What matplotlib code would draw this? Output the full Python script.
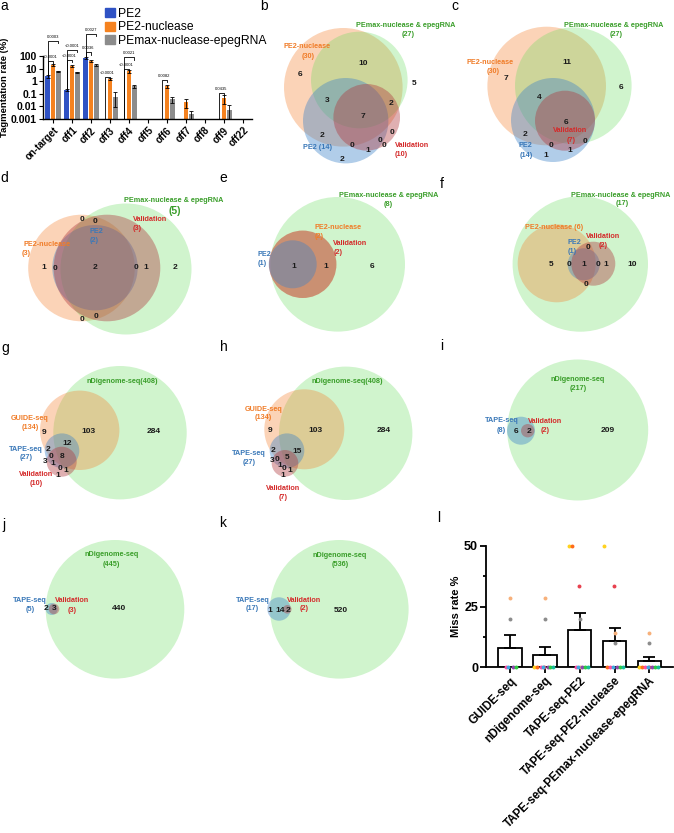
import numpy as np
import matplotlib.pyplot as plt
from matplotlib.patches import Circle, Patch
from matplotlib.transforms import blended_transform_factory

plt.rcParams['font.family'] = ['Liberation Sans', 'DejaVu Sans']

W, H = 674, 833

# ---------------- panel a : tagmentation rate ----------------
sites = ['on-target', 'off1', 'off2', 'off3', 'off4', 'off5', 'off6', 'off7', 'off8', 'off9', 'off22']
pe2 = [2.5, 0.2, 70, 0, 0, 0, 0, 0, 0, 0, 0]
pe2_nuc = [20, 17, 40, 1.5, 6, 0, 0.4, 0.022, 0, 0.045, 0]
pemax = [6, 5, 20, 0.06, 0.4, 0, 0.04, 0.0017, 0, 0.004, 0]
pe2_err = [0.6, 0.03, 12, 0, 0, 0, 0, 0, 0, 0, 0]
pe2_nuc_err = [4, 3, 8, 0.3, 1.2, 0, 0.1, 0.015, 0, 0.03, 0]
pemax_err = [1, 0.6, 3, 0.07, 0.1, 0, 0.02, 0.003, 0, 0.008, 0]
series_names = ['PE2', 'PE2-nuclease', 'PEmax-nuclease-epegRNA']
series_colors = ['#2f52c4', '#f5821f', '#8c8c8c']
p_site = [0, 0, 1, 1, 2, 2, 3, 4, 4, 6, 9]
p_other = [2, 1, 2, 1, 2, 1, 1, 2, 1, 1, 1]
p_text = ['0.0003', '<0.0001', '<0.0001', '<0.0001', '0.0027', '0.0036',
          '<0.0001', '0.0021', '<0.0001', '0.0082', '0.0435']

# ---------------- venn diagrams ----------------
b_sets = ['PE2-nuclease', 'PEmax-nuclease & epegRNA', 'PE2', 'Validation']
b_sizes = [30, 27, 14, 10]
b_counts = [10, 6, 5, 3, 2, 7, 2, 0, 0, 0, 0, 1, 2]

c_sets = ['PE2-nuclease', 'PEmax-nuclease & epegRNA', 'PE2', 'Validation']
c_sizes = [30, 27, 14, 7]
c_counts = [11, 7, 6, 4, 6, 2, 0, 1, 0, 1]

d_sets = ['PE2-nuclease', 'PEmax-nuclease & epegRNA', 'PE2', 'Validation']
d_sizes = [3, 5, 2, 3]
d_counts = [0, 0, 1, 0, 2, 0, 1, 2, 0, 0]

e_sets = ['PEmax-nuclease & epegRNA', 'PE2-nuclease', 'Validation', 'PE2']
e_sizes = [8, 2, 2, 1]
e_counts = [1, 1, 6]

f_sets = ['PEmax-nuclease & epegRNA', 'PE2-nuclease', 'PE2', 'Validation']
f_sizes = [17, 6, 1, 2]
f_counts = [5, 0, 1, 0, 1, 10, 0, 0]

g_sets = ['nDigenome-seq', 'GUIDE-seq', 'TAPE-seq', 'Validation']
g_sizes = [408, 134, 27, 10]
g_counts = [9, 103, 284, 12, 2, 0, 8, 3, 1, 0, 1, 1]

h_sets = ['nDigenome-seq', 'GUIDE-seq', 'TAPE-seq', 'Validation']
h_sizes = [408, 134, 27, 7]
h_counts = [9, 103, 284, 2, 15, 3, 0, 5, 1, 0, 1, 1]

i_sets = ['nDigenome-seq', 'TAPE-seq', 'Validation']
i_sizes = [217, 8, 2]
i_counts = [6, 2, 209]

j_sets = ['nDigenome-seq', 'TAPE-seq', 'Validation']
j_sizes = [445, 5, 3]
j_counts = [2, 3, 440]

k_sets = ['nDigenome-seq', 'TAPE-seq', 'Validation']
k_sizes = [536, 17, 2]
k_counts = [1, 14, 2, 520]

# ---------------- panel l : miss rate ----------------
methods = ['GUIDE-seq', 'nDigenome-seq', 'TAPE-seq-PE2', 'TAPE-seq-PE2-nuclease',
           'TAPE-seq-PEmax-nuclease-epegRNA']
nan = np.nan
miss_guide = [nan, nan, nan, 28.6, 20, 0, 0, 0, 0, nan]
miss_ndig = [0, 0, 0, 28.6, 20, 0, 0, 0, 0, 0]
miss_pe2 = [50, 50, 33.3, 0, 20, 0, 0, 0, 0, 0]
miss_pe2nuc = [50, 0, 33.3, 14.3, 10, 0, 0, 0, 0, 0]
miss_pemax = [0, 0, 0, 14.3, 10, 0, 0, 0, 0, 0]
exp_colors = ['#ffd21f', '#ff6b1a', '#e8414f', '#f7b07a', '#8c8c8c',
              '#ff4fa3', '#3fa7e0', '#8e44ad', '#2ecc40', '#1abc9c']

# ---------------- styles ----------------
fill = {'or': ((245, 130, 50), 0.35), 'gr': ((100, 220, 90), 0.3),
        'bl': ((60, 130, 200), 0.4), 'rd': ((175, 55, 60), 0.4)}
txt = {'or': '#f07c28', 'gr': '#3a9e2a', 'bl': '#3a78b8', 'rd': '#d42a2a'}

fig = plt.figure(figsize=(W / 100, H / 100), dpi=100)

# overlay axis in pixel units for venn diagrams and panel letters
ax0 = fig.add_axes([0, 0, 1, 1])
ax0.set_xlim(0, W)
ax0.set_ylim(H, 0)
ax0.axis('off')

for lt, x, y in [('a', 4, 6), ('b', 264, 6), ('c', 455, 6), ('d', 4, 178), ('e', 223, 178),
                 ('f', 442, 184), ('g', 5, 348), ('h', 224, 347), ('i', 442, 346),
                 ('j', 4, 525), ('k', 223, 523), ('l', 439, 518)]:
    ax0.text(x, y, lt, fontsize=10, ha='center', va='center')

panels = [
    dict(sets=b_sets, sizes=b_sizes, counts=b_counts, keys=['or', 'gr', 'bl', 'rd'],
         circles=[(343.3, 87.3, 59.3), (359.3, 80, 48.3), (345.7, 120.7, 42.7), (366.7, 117.3, 33.3)],
         labels=[('name', 0, 306.7, 46.7), ('size', 0, 307.7, 56), ('name', 1, 405.5, 25),
                 ('size', 1, 407.7, 34.3), ('both', 2, 317.7, 147.7), ('name', 3, 411.7, 145.7),
                 ('size', 3, 401, 154.3)],
         xy=[(363.3, 63.3), (300, 74), (414.3, 83.3), (326.7, 100.7), (391, 103.3), (362.7, 116.7),
             (321.7, 135), (392.3, 132.3), (351.7, 145.7), (380, 140), (384.3, 145.7),
             (367.7, 150.7), (341.7, 159)]),
    dict(sets=c_sets, sizes=c_sizes, counts=c_counts, keys=['or', 'gr', 'bl', 'rd'],
         circles=[(546.7, 86, 59.3), (573.3, 85.7, 58.3), (553, 120, 42), (565, 120.7, 30)],
         labels=[('name', 0, 490, 62.7), ('size', 0, 492.7, 71.7), ('name', 1, 614, 25),
                 ('size', 1, 616, 34.3), ('name', 2, 525, 145.7), ('size', 2, 526, 155),
                 ('name', 3, 570, 130.7), ('size', 3, 570.7, 140)],
         xy=[(566.7, 62.7), (506, 78.3), (620.7, 87.3), (539.3, 97.3), (566, 122.7), (525.3, 134.3),
             (550.7, 145.7), (570, 150.7), (585, 141.7), (546, 155.7)]),
    dict(sets=d_sets, sizes=d_sizes, counts=d_counts, keys=['or', 'gr', 'bl', 'rd'],
         circles=[(81.5, 268, 53.3), (126, 269, 65.5), (95, 267.7, 42.7), (107, 268, 53.3)],
         labels=[('name', 1, 173.3, 200), ('size', 1, 175, 210.7, 7.5), ('name', 3, 150, 219),
                 ('size', 3, 137.3, 228.3), ('name', 2, 96.7, 231), ('size', 2, 94, 240.7),
                 ('name', 0, 46.7, 244.3), ('size', 0, 26, 253.3)],
         xy=[(81.7, 219), (95, 221.7), (43.3, 267.7), (55, 269), (95, 267.7), (136, 267.7),
             (146, 267.7), (175, 267.7), (82.3, 319.3), (95.7, 316.7)]),
    dict(sets=e_sets, sizes=e_sizes, counts=e_counts, keys=['gr', 'or', 'rd', 'bl'],
         circles=[(337.7, 264.3, 67.3), (302.7, 264.3, 33.7), (302.7, 264.3, 33.7), (292.7, 264.3, 24)],
         labels=[('name', 0, 388.3, 195), ('size', 0, 388, 204.3), ('name', 1, 337.7, 227.3),
                 ('size', 1, 319, 236), ('name', 2, 350.3, 243.3), ('size', 2, 338.3, 252.3),
                 ('name', 3, 264.3, 254), ('size', 3, 261.7, 263.3)],
         xy=[(293.3, 266), (326, 266), (371.7, 266)]),
    dict(sets=f_sets, sizes=f_sizes, counts=f_counts, keys=['gr', 'or', 'bl', 'rd'],
         circles=[(580.3, 264, 67.7), (556.7, 263.3, 39), (583.7, 264.3, 16), (593.3, 263.7, 22)],
         labels=[('name', 0, 621, 195), ('size', 0, 622, 203.3), ('both', 1, 554, 227.7),
                 ('name', 3, 603.3, 236), ('size', 3, 603.3, 245), ('name', 2, 574, 242.3),
                 ('size', 2, 571.7, 251.7)],
         xy=[(550.7, 264), (569, 265), (583.3, 264.3), (598.3, 264.3), (605.7, 264.3), (631.7, 264),
             (588.3, 247.3), (586, 284)]),
    dict(sets=g_sets, sizes=g_sizes, counts=g_counts, keys=['gr', 'or', 'bl', 'rd'],
         circles=[(120, 432.7, 66.7), (79.7, 430.3, 39.7), (62, 450.7, 17.3), (61.7, 461.7, 15)],
         labels=[('tight', 0, 122, 381), ('name', 1, 30, 418.3), ('size', 1, 30, 427.3),
                 ('name', 2, 26, 449), ('size', 2, 26, 457.7), ('name', 3, 35.7, 474),
                 ('size', 3, 35.7, 483.3)],
         xy=[(44, 432.3), (88.3, 431.7), (154, 431.7), (66.7, 443.3), (47.7, 449.3), (51, 456.7),
             (62.3, 456.7), (45, 461), (52.7, 463.3), (60, 468.3), (66, 470.7), (57.3, 475)]),
    dict(sets=h_sets, sizes=h_sizes, counts=h_counts, keys=['gr', 'or', 'bl', 'rd'],
         circles=[(345.7, 433.3, 66.7), (304.3, 429.3, 40), (287, 450.7, 17.3), (285, 463.3, 13.3)],
         labels=[('tight', 0, 347, 381), ('name', 1, 263.3, 409), ('size', 1, 263.3, 417.7),
                 ('name', 2, 249, 453.3), ('size', 2, 249, 462.3), ('name', 3, 283.3, 488.3),
                 ('size', 3, 283.3, 497.3)],
         xy=[(270, 430.7), (315.7, 430.7), (383.3, 430.7), (273.3, 450), (296.7, 451), (271.7, 460.7),
             (277.3, 459), (286.7, 457.7), (279.3, 465), (284.3, 468.3), (289.3, 470), (282.3, 475)]),
    dict(sets=i_sets, sizes=i_sizes, counts=i_counts, keys=['gr', 'bl', 'rd'],
         circles=[(577.7, 430, 70.5), (521, 430.7, 14), (527.7, 430.7, 6.7)],
         labels=[('name', 0, 577.7, 379), ('size', 0, 577.7, 388), ('name', 1, 501.7, 420.7),
                 ('size', 1, 501, 430), ('name', 2, 545, 421), ('size', 2, 545, 430.7)],
         xy=[(516, 431.7), (529, 431.7), (607.7, 430)]),
    dict(sets=j_sets, sizes=j_sizes, counts=j_counts, keys=['gr', 'bl', 'rd'],
         circles=[(115, 609.3, 69.3), (51.7, 609, 6), (54, 609, 5.3)],
         labels=[('name', 0, 111.7, 555), ('size', 0, 111.7, 564), ('name', 1, 30, 600),
                 ('size', 1, 30, 609.3), ('name', 2, 71.7, 601), ('size', 2, 71.7, 610.7)],
         xy=[(46, 609), (54, 609), (119, 608.3)]),
    dict(sets=k_sets, sizes=k_sizes, counts=k_counts, keys=['gr', 'bl', 'rd'],
         circles=[(339.3, 609.3, 69.3), (279, 609, 11.7), (287.3, 609.3, 4.3)],
         labels=[('name', 0, 340, 555.7), ('size', 0, 340, 564.3), ('name', 1, 252.3, 600),
                 ('size', 1, 252.3, 608.7), ('name', 2, 304.3, 600), ('size', 2, 304.3, 609)],
         xy=[(269.3, 610.7), (280, 610.7), (288.3, 610.7), (340.7, 610)]),
]

for p in panels:
    for (cx, cy, r), key in zip(p['circles'], p['keys']):
        rgb, a = fill[key]
        ax0.add_patch(Circle((cx, cy), r, facecolor=np.array(rgb) / 255, alpha=a, lw=0))
    for lab in p['labels']:
        kind, si, x, y = lab[:4]
        fs = lab[4] if len(lab) > 4 else 5.2
        name, size = p['sets'][si], p['sizes'][si]
        s = {'name': name, 'size': f'({size})', 'both': f'{name} ({size})',
             'tight': f'{name}({size})'}[kind]
        ax0.text(x, y, s, color=txt[p['keys'][si]], fontsize=fs, fontweight='bold',
                 ha='center', va='center')
    for n, (x, y) in zip(p['counts'], p['xy']):
        ax0.text(x, y, str(n), fontsize=6, fontweight='bold', color='#1a1a1a',
                 ha='center', va='center')

# ---------------- panel a ----------------
ax = fig.add_axes([43 / W, 1 - 119 / H, 209.5 / W, 63 / H])
ax.set_yscale('log')
ax.set_ylim(0.001, 100)
ax.set_xlim(-0.53, 10.5)
x = np.arange(len(sites))
offs = [-0.28, 0, 0.28]
vals = [pe2, pe2_nuc, pemax]
errs = [pe2_err, pe2_nuc_err, pemax_err]
for k in range(3):
    v = np.array(vals[k], float)
    e = np.array(errs[k], float)
    m = v > 0
    ax.bar(x[m] + offs[k], v[m], width=0.25, color=series_colors[k], bottom=0.001,
           label=series_names[k])
    lo = np.minimum(e[m], v[m] * 0.85)
    ax.errorbar(x[m] + offs[k], v[m], yerr=[lo, e[m]], fmt='none', ecolor='black',
                elinewidth=0.6, capsize=1.2, capthick=0.6)
for s in ['top', 'right']:
    ax.spines[s].set_visible(False)
for s in ['left', 'bottom']:
    ax.spines[s].set_linewidth(1)
ax.set_yticks([0.001, 0.01, 0.1, 1, 10, 100])
ax.set_yticklabels(['0.001', '0.01', '0.1', '1', '10', '100'], fontsize=7.5, fontweight='bold')
ax.minorticks_off()
ax.set_xticks(x)
ax.set_xticklabels(sites, rotation=45, ha='right', va='top', rotation_mode='anchor',
                   fontsize=7, fontweight='bold')
ax.tick_params(length=3, width=0.8, pad=1.5)
ax.set_ylabel('Tagmentation rate (%)', fontsize=6.8, fontweight='bold', labelpad=1)

p_level = [1.24, 0.92, 1.10, 0.94, 1.35, 1.06, 0.67, 0.98, 0.79, 0.62, 0.41]
tr = blended_transform_factory(ax.transData, ax.transAxes)
for si, oi, lv, t in zip(p_site, p_other, p_level, p_text):
    x1 = si + offs[0]
    x2 = si + offs[oi]
    base = (np.log10(pe2[si]) + 3) / 5 if pe2[si] > 0 else 0
    ax.plot([x1, x1, x2, x2], [base, lv, lv, lv - 0.04], color='black', lw=0.6,
            transform=tr, clip_on=False)
    ax.text((x1 + x2) / 2, lv + 0.03, t, fontsize=3, ha='center', va='bottom',
            transform=tr, clip_on=False)

fig.legend(handles=[Patch(color=c) for c in series_colors], labels=series_names,
           loc='upper left', bbox_to_anchor=(105 / W, 1 - 8 / H), frameon=False,
           fontsize=8.7, handlelength=0.8, handleheight=0.8, handletextpad=0.3,
           labelspacing=0.12, borderaxespad=0, borderpad=0)

# ---------------- panel l ----------------
axl = fig.add_axes([485.7 / W, 1 - 667.3 / H, 187.3 / W, 121.6 / H])
miss = [miss_guide, miss_ndig, miss_pe2, miss_pe2nuc, miss_pemax]
exp_offsets = [-0.30, -0.22, -0.02, 0.0, 0.0, -0.12, -0.05, 0.08, 0.16, 0.24]
xm = np.arange(len(methods))
means = [np.nanmean(m) for m in miss]
sems = [np.nanstd(m, ddof=1) / np.sqrt(np.sum(~np.isnan(m))) for m in miss]
axl.bar(xm, means, width=0.67, facecolor='white', edgecolor='black', lw=1.3, zorder=2)
axl.errorbar(xm, means, yerr=[np.zeros(len(xm)), sems], fmt='none', ecolor='black',
             elinewidth=1.3, capsize=4, capthick=1.3, zorder=2)
for i, m in enumerate(miss):
    for j, v in enumerate(m):
        if np.isnan(v):
            continue
        axl.scatter(i + exp_offsets[j], v, s=8, color=exp_colors[j], zorder=3,
                    clip_on=False, lw=0)
axl.set_xlim(-0.7, 4.68)
axl.set_ylim(0, 50)
axl.set_yticks([0, 25, 50])
axl.set_yticks([12.5, 37.5], minor=True)
axl.set_yticklabels(['0', '25', '50'], fontsize=9, fontweight='bold')
axl.set_xticks(xm)
axl.set_xticklabels(methods, rotation=45, ha='right', va='top', rotation_mode='anchor',
                    fontsize=8.4, fontweight='bold')
for s in ['top', 'right']:
    axl.spines[s].set_visible(False)
for s in ['left', 'bottom']:
    axl.spines[s].set_linewidth(1.3)
axl.tick_params(which='major', length=4, width=1.3, pad=1.5)
axl.tick_params(which='minor', length=2.5, width=1.3)
axl.set_ylabel('Miss rate %', fontsize=8, fontweight='bold', labelpad=2)

fig.savefig('out.png', dpi=100)
